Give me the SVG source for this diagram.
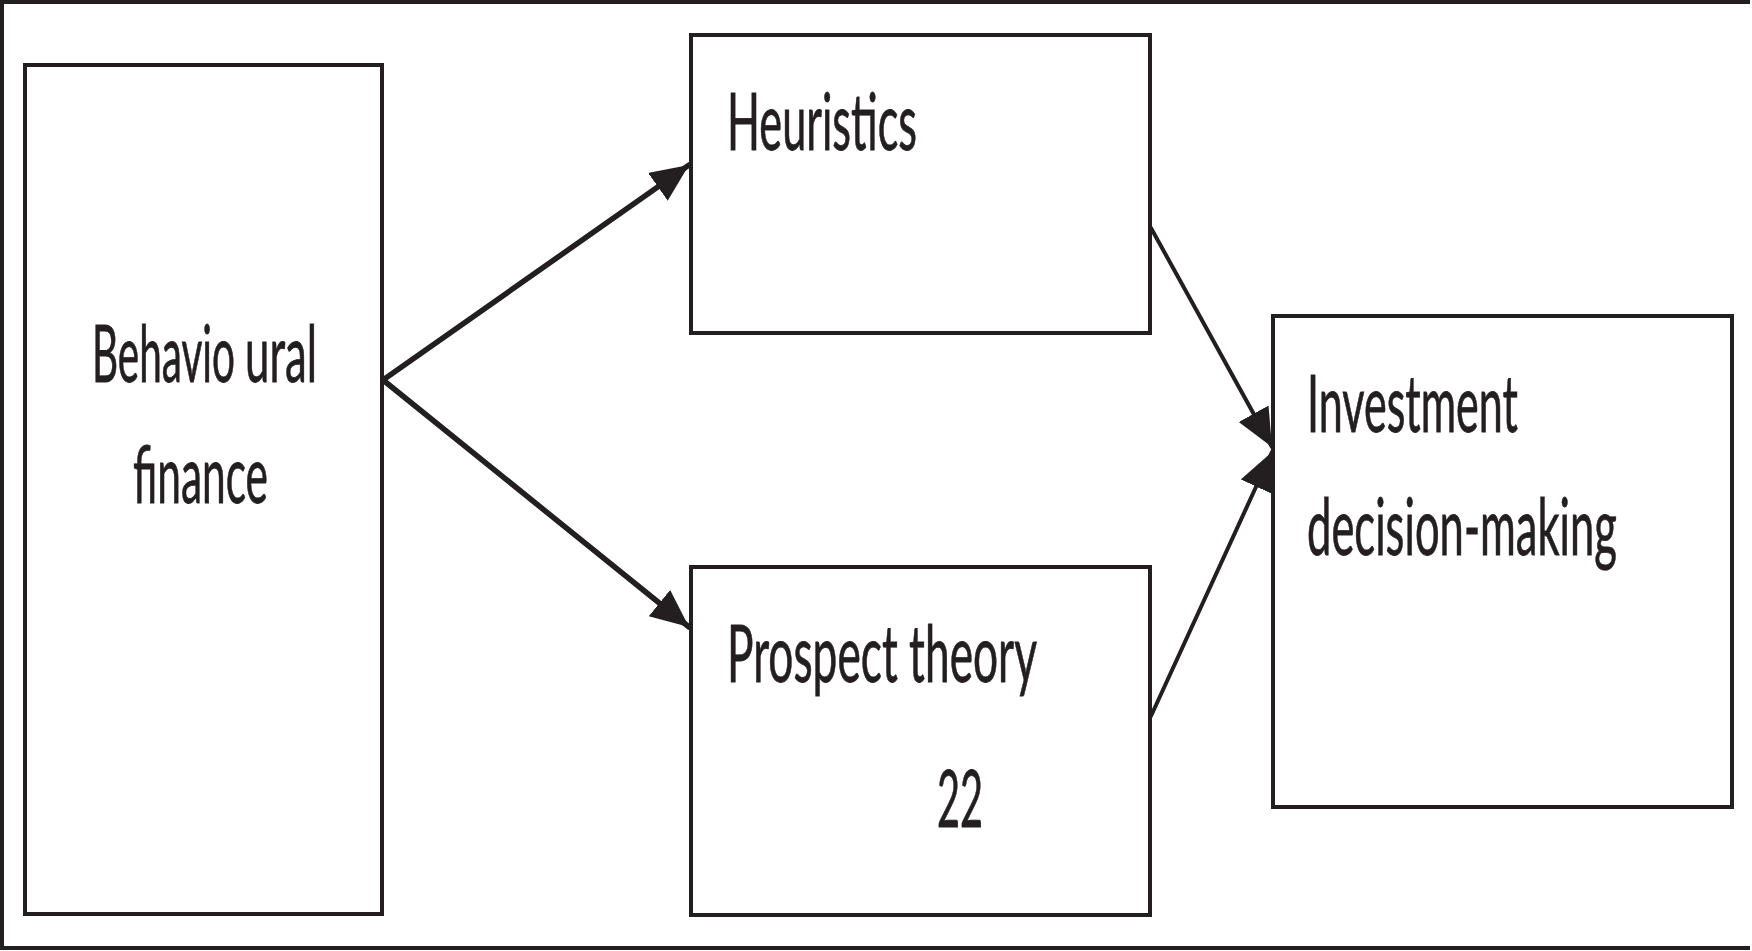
<svg xmlns="http://www.w3.org/2000/svg" width="1752" height="951" viewBox="0 0 1752 951">
  <style>
    .box { fill: #ffffff; stroke: #231f20; stroke-width: 4; }
    .lbl { font-family: Lato, "Open Sans", "Liberation Sans", sans-serif; font-size: 80px; fill: #231f20; stroke: #231f20; stroke-width: 0.8; }
    .edge { fill: none; stroke: #231f20; stroke-linecap: round; }
  </style>
  <defs>
    <marker id="head" markerUnits="userSpaceOnUse" markerWidth="40" markerHeight="36" refX="38" refY="17" orient="auto">
      <path d="M0,0 L38,17 L0,34 Z" fill="#231f20"/>
    </marker>
  </defs>

  <!-- page background and frame -->
  <rect x="0" y="0" width="1752" height="951" fill="#ffffff"/>
  <path d="M1750,2 L2,2 L2,948 L1750,948" fill="none" stroke="#231f20" stroke-width="4"/>

  <g id="behavioural-finance">
    <rect class="box" x="25" y="65" width="357" height="849"/>
    <text class="lbl" x="92" y="382" textLength="143" lengthAdjust="spacingAndGlyphs">Behavio</text>
    <text class="lbl" x="245" y="382" textLength="72" lengthAdjust="spacingAndGlyphs">ural</text>
    <text class="lbl" x="133" y="503" textLength="135" lengthAdjust="spacingAndGlyphs">finance</text>
  </g>

  <g id="heuristics">
    <rect class="box" x="691" y="35" width="459" height="298"/>
    <text class="lbl" x="727" y="150" textLength="190" lengthAdjust="spacingAndGlyphs">Heuristics</text>
  </g>

  <g id="prospect-theory">
    <rect class="box" x="691" y="567" width="459" height="348"/>
    <text class="lbl" x="727" y="682" textLength="310" lengthAdjust="spacingAndGlyphs">Prospect theory</text>
    <text class="lbl" x="937" y="827" textLength="46" lengthAdjust="spacingAndGlyphs">22</text>
  </g>

  <g id="investment-decision-making">
    <rect class="box" x="1273" y="316" width="459" height="491"/>
    <text class="lbl" x="1307" y="432" textLength="211" lengthAdjust="spacingAndGlyphs">Investment</text>
    <text class="lbl" x="1307" y="555" textLength="310" lengthAdjust="spacingAndGlyphs">decision-making</text>
  </g>

  <g id="connectors">
    <line class="edge" x1="383" y1="380" x2="689" y2="165" stroke-width="5.5" marker-end="url(#head)"/>
    <line class="edge" x1="383" y1="380" x2="689" y2="627" stroke-width="5.5" marker-end="url(#head)"/>
    <line class="edge" x1="1151" y1="228" x2="1272" y2="447" stroke-width="4" marker-end="url(#head)"/>
    <line class="edge" x1="1151" y1="716" x2="1272" y2="452" stroke-width="4" marker-end="url(#head)"/>
  </g>
</svg>
